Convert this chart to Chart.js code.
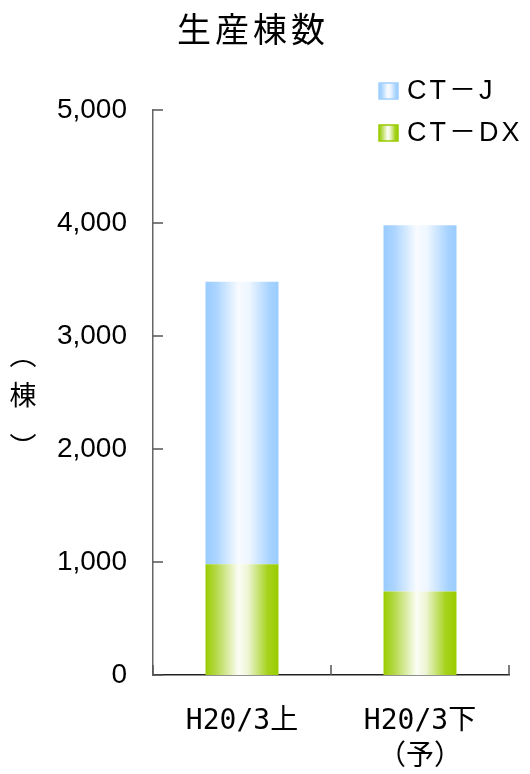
<!DOCTYPE html>
<html>
<head>
<meta charset="utf-8">
<script src="https://cdn.jsdelivr.net/npm/chart.js@4/dist/chart.umd.min.js"></script>
<style>
  html, body { margin: 0; padding: 0; background: #fff; }
</style>
</head>
<body>
<canvas id="chart" width="530" height="774"></canvas>
<script>
// production counts, first half / second half (forecast)
const categories = [['H20/3上'], ['H20/3下', '（予）']];
const ctDx = [980, 740];
const ctJ = [2500, 3240];
const yTicks = [0, 1000, 2000, 3000, 4000, 5000];
const chartTitle = '生産棟数';
const unitLabel = ['︵', '棟', '︶'];

const barPct = 0.41;

// horizontal "cylinder" shading for each colour
const blueStops = [[0, '#99ccff'], [0.15, '#acd5ff'], [0.45, '#f8fbff'], [0.6, '#eef6ff'], [0.88, '#a8d3ff'], [1, '#99ccff']];
const greenStops = [[0, '#99cc00'], [0.15, '#b5d94a'], [0.45, '#fbfdf4'], [0.58, '#eef5d6'], [0.85, '#a6d21c'], [1, '#99cc00']];

function shade(ctx, x0, x1, stops) {
    const g = ctx.createLinearGradient(x0, 0, x1, 0);
    stops.forEach(s => g.addColorStop(s[0], s[1]));
    return g;
}

function barFill(stops) {
    return (context) => {
        const chart = context.chart;
        const xs = chart.scales.x;
        if (!xs || !chart.chartArea || context.type !== 'data') return stops[0][1];
        const cx = xs.getPixelForValue(context.dataIndex);
        const half = (xs.width / categories.length) * barPct / 2;
        if (!Number.isFinite(cx) || !Number.isFinite(half)) return stops[0][1];
        return shade(chart.ctx, cx - half, cx + half, stops);
    };
}

const series = [
    {label: 'CT－DX', data: ctDx, stops: greenStops, edge: '#99cc00'},
    {label: 'CT－J', data: ctJ, stops: blueStops, edge: '#9fcfff'}
];

const decor = {
    id: 'decor',
    afterDraw(chart) {
        const {ctx, chartArea, scales} = chart;
        ctx.save();

        // tick marks pointing into the plot
        ctx.strokeStyle = '#555';
        ctx.lineWidth = 1.5;
        ctx.beginPath();
        yTicks.forEach(v => {
            const py = Math.round(scales.y.getPixelForValue(v));
            ctx.moveTo(chartArea.left, py);
            ctx.lineTo(chartArea.left + 10, py);
        });
        const step = scales.x.width / categories.length;
        for (let i = 0; i <= categories.length; i++) {
            const px = Math.round(scales.x.left + i * step);
            ctx.moveTo(px, chartArea.bottom);
            ctx.lineTo(px, chartArea.bottom - 10);
        }
        ctx.stroke();

        ctx.fillStyle = '#000';
        ctx.textAlign = 'center';
        ctx.textBaseline = 'middle';

        // title
        ctx.font = "34px 'Noto Sans CJK JP'";
        ctx.letterSpacing = '4px';
        ctx.fillText(chartTitle, 253, 29);

        // unit, written vertically (bracket glyphs sit off-centre in their em box)
        ctx.letterSpacing = '0px';
        ctx.font = "27px 'Noto Sans CJK JP'";
        const cy = (chartArea.top + chartArea.bottom) / 2;
        const unitOffsets = [-38, 2, 54];
        unitLabel.forEach((ch, i) => ctx.fillText(ch, 23, cy + unitOffsets[i]));

        // legend, top series first
        ctx.textAlign = 'left';
        ctx.font = "27px 'Liberation Sans', 'Noto Sans CJK JP'";
        ctx.letterSpacing = '3px';
        series.slice().reverse().forEach((s, i) => {
            const y = 91 + i * 42;
            ctx.fillStyle = shade(ctx, 379, 398, s.stops);
            ctx.fillRect(379, y - 8, 19, 16);
            ctx.strokeStyle = s.edge;
            ctx.lineWidth = 1.5;
            ctx.strokeRect(379, y - 8, 19, 16);
            ctx.fillStyle = '#000';
            ctx.fillText(s.label, 407, y + 1);
        });
        ctx.restore();
    }
};

new Chart(document.getElementById('chart'), {
    type: 'bar',
    data: {
        labels: categories,
        datasets: series.map(s => ({
            label: s.label,
            data: s.data,
            backgroundColor: barFill(s.stops),
            borderWidth: 0,
            barPercentage: barPct,
            categoryPercentage: 1
        }))
    },
    options: {
        responsive: false,
        animation: false,
        devicePixelRatio: 1,
        layout: {padding: {top: 110, right: 21, bottom: 0, left: 0}},
        plugins: {
            legend: {display: false},
            title: {display: false},
            tooltip: {enabled: false}
        },
        scales: {
            x: {
                stacked: true,
                grid: {display: false, drawTicks: false},
                border: {color: '#222', width: 1.5},
                ticks: {
                    padding: 29,
                    color: '#000',
                    maxRotation: 0,
                    autoSkip: false,
                    font: {family: "'DejaVu Sans Mono', 'Noto Sans CJK JP'", size: 28, lineHeight: 36 / 28}
                },
                afterFit: s => { s.height = 99; }
            },
            y: {
                stacked: true,
                min: 0,
                max: 5000,
                afterBuildTicks: s => { s.ticks = yTicks.map(v => ({value: v})); },
                grid: {display: false, drawTicks: false},
                border: {color: '#666', width: 1.5},
                ticks: {
                    padding: 26,
                    color: '#000',
                    font: {family: 'Liberation Sans', size: 28},
                    callback: v => v.toLocaleString('en-US')
                },
                afterFit: s => { s.width = 153; }
            }
        }
    },
    plugins: [decor]
});
</script>
</body>
</html>
